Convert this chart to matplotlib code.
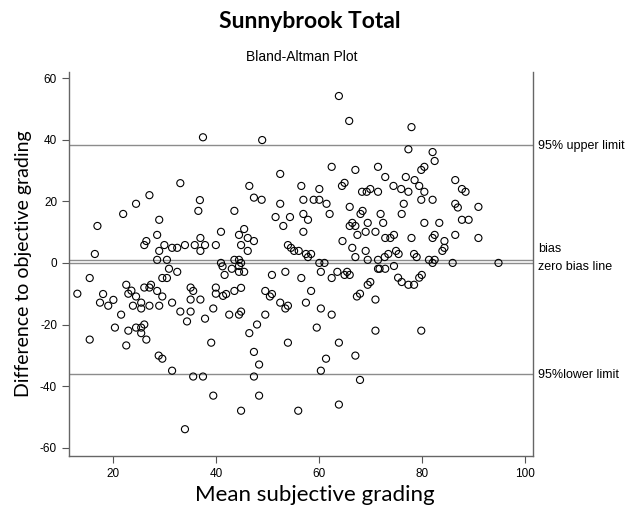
import matplotlib
matplotlib.use("Agg")
import matplotlib.pyplot as plt
import numpy as np

# mean subjective grading (x) and difference to objective grading (y)
mean_grading = [
    27.1, 36.9, 24.5, 36.6, 22.0, 29.0, 17.0, 41.0, 28.6, 37.0, 26.5, 26.1, 30.0,
    35.9, 37.9, 40.0, 34.0, 31.5, 32.5, 29.0, 37.0, 16.5, 28.6, 30.5, 41.0, 41.3,
    30.9, 32.5, 41.7, 15.5, 29.6, 30.5, 22.6, 26.1, 27.1, 27.4, 35.1, 40.0, 23.6,
    28.6, 35.6, 13.1, 23.0, 18.1, 40.0, 41.4, 24.5, 29.6, 20.1, 35.1, 37.0, 17.5,
    19.1, 23.9, 25.5, 25.5, 27.1, 29.0, 31.5, 39.5, 21.6, 33.1, 35.1, 34.4, 37.9,
    20.4, 23.0, 24.5, 25.5, 26.1, 25.5, 26.5, 15.5, 22.6, 39.1, 28.9, 29.6, 31.5,
    35.6, 37.5, 39.5, 34.0, 37.5, 33.1,
    63.9, 65.9, 49.0, 62.5, 67.1, 71.5, 52.5, 46.5, 56.6, 60.1, 65.0, 64.5, 68.4,
    69.3, 70.0, 71.5, 47.4, 48.9, 57.0, 59.0, 60.1, 52.5, 61.5, 66.0, 68.5, 68.1,
    43.6, 51.6, 54.4, 57.0, 57.9, 62.1, 53.1, 66.5, 66.0, 67.1, 69.5, 45.5, 44.5,
    46.2, 47.4, 57.0, 67.5, 69.1, 71.0, 44.9, 46.2, 64.6, 66.5, 69.1, 67.1, 54.0,
    54.6, 55.2, 56.1, 57.5, 57.9, 58.5, 43.6, 44.5, 44.9, 43.1, 44.5, 44.5, 45.5,
    60.1, 61.1, 69.5, 71.5, 71.5, 50.9, 53.5, 56.6, 60.4, 62.5, 63.6, 65.0, 65.5,
    66.0, 69.5, 70.0, 44.9, 43.6, 42.0, 49.6, 50.9, 50.5, 58.5, 52.5, 54.0, 53.5,
    57.5, 60.4, 68.0, 67.4, 71.0, 42.6, 44.5, 44.9, 49.6, 62.5, 48.0, 46.5, 59.6,
    71.0, 54.0, 63.9, 47.4, 61.4, 67.1, 48.4, 60.4, 47.4, 68.0, 48.4, 44.9, 56.0,
    63.9,
    78.0, 77.4, 82.1, 82.5, 79.9, 80.5, 72.9, 76.9, 78.6, 79.5, 80.5, 74.5, 76.0,
    77.4, 86.5, 87.8, 88.5, 79.9, 82.1, 76.5, 86.5, 87.0, 91.0, 72.0, 76.1, 72.5,
    80.5, 83.4, 87.8, 89.1, 72.9, 73.9, 74.6, 78.0, 82.1, 82.5, 84.4, 86.5, 91.0,
    84.4, 84.0, 75.0, 75.5, 73.5, 72.8, 78.5, 79.0, 81.4, 82.5, 82.1, 86.0, 94.9,
    71.8, 72.9, 74.6, 75.4, 76.1, 77.4, 78.5, 79.5, 80.0, 79.9,
]
difference = [
    22.0, 20.4, 19.2, 16.9, 15.9, 14.0, 12.0, 10.1, 9.1, 8.1, 7.1, 5.8, 5.8,
    5.8, 5.8, 5.8, 5.8, 4.9, 4.9, 3.9, 3.9, 2.9, 1.0, 1.0, 0.0, -1.1,
    -1.9, -2.9, -3.9, -4.9, -4.9, -4.9, -7.1, -8.0, -8.0, -7.1, -8.0, -8.0, -9.0,
    -9.1, -9.1, -10.0, -10.0, -10.1, -10.0, -10.7, -10.9, -10.9, -12.0, -11.9, -11.9, -12.9,
    -13.9, -13.9, -12.9, -14.8, -13.9, -13.9, -12.9, -14.8, -16.8, -15.8, -15.8, -19.0, -18.1,
    -21.0, -22.0, -21.0, -21.0, -20.0, -22.8, -24.9, -24.9, -26.8, -25.9, -30.1, -31.1, -35.0,
    -36.9, -36.9, -43.1, -54.0, 40.8, 25.9,
    54.2, 46.1, 39.9, 31.2, 30.2, 31.2, 28.9, 25.0, 25.0, 24.0, 26.0, 25.0, 23.1,
    23.1, 24.0, 23.1, 21.2, 20.5, 20.5, 20.5, 20.5, 19.2, 19.2, 18.2, 16.9, 15.9,
    16.9, 14.9, 14.9, 15.9, 14.0, 15.9, 12.0, 13.0, 12.0, 12.0, 13.0, 11.0, 9.1,
    8.1, 7.1, 10.1, 9.1, 10.1, 10.1, 5.8, 3.9, 7.1, 4.9, 3.9, 1.9, 5.8,
    4.9, 3.9, 3.9, 2.9, 1.9, 2.9, 1.0, 1.0, 0.0, -1.9, -1.0, -2.9, -2.9,
    0.0, 0.0, 1.0, 1.0, -1.9, -3.9, -2.9, -4.9, -2.9, -4.9, -2.9, -3.9, -2.9,
    -3.9, -7.1, -6.2, -8.1, -9.1, -10.1, -9.1, -10.1, -10.9, -9.1, -12.9, -13.9, -14.8,
    -12.9, -14.8, -10.0, -10.9, -11.9, -16.8, -16.8, -15.8, -16.8, -16.8, -20.0, -22.8, -21.0,
    -22.0, -25.9, -25.9, -28.9, -31.1, -30.1, -33.0, -35.0, -36.9, -38.0, -43.1, -48.0, -48.0,
    -46.0,
    44.1, 36.9, 36.0, 33.1, 30.2, 31.2, 27.9, 27.9, 26.9, 25.0, 23.1, 25.0, 24.0,
    23.1, 26.9, 24.0, 23.1, 20.5, 20.5, 19.2, 19.2, 18.0, 18.2, 15.9, 15.9, 13.0,
    13.0, 13.0, 14.0, 14.0, 8.1, 8.1, 9.1, 8.1, 8.1, 9.1, 7.1, 9.1, 8.1,
    4.9, 3.9, 3.9, 2.9, 2.9, 1.9, 2.9, 1.9, 1.0, 1.0, 0.0, 0.0, 0.0,
    -1.9, -1.9, -1.0, -4.8, -6.2, -7.1, -7.1, -4.8, -3.9, -22.0,
]

upper_limit = 38.3
bias = 1.0
lower_limit = -36.1

x_ticks = [20, 40, 60, 80, 100]
y_ticks = [-60, -40, -20, 0, 20, 40, 60]

plt.rcParams["font.family"] = ["Liberation Sans", "DejaVu Sans"]
plt.rcParams["axes.unicode_minus"] = False

fig = plt.figure(figsize=(6.38, 5.07), dpi=100)
ax = fig.add_axes([0.108, 0.1006, 0.727, 0.7574])

line_col = "#8c8c8c"
for level in [upper_limit, bias, 0, lower_limit]:
    ax.axhline(level, color=line_col, lw=1.0)

ax.scatter(mean_grading, difference, s=26, facecolors="none",
           edgecolors="black", linewidths=0.8, zorder=3)

ax.set_xlim(11.46, 101.55)
ax.set_ylim(-62.7, 62.0)
ax.set_xticks(x_ticks)
ax.set_yticks(y_ticks)
ax.tick_params(labelsize=8.5, length=5, width=0.8, color="#555555")

for side in ["left", "right", "bottom"]:
    ax.spines[side].set_color("#666666")
    ax.spines[side].set_linewidth(1.0)
ax.spines["top"].set_visible(False)

# labels on the right of the limit lines
lab = dict(xycoords=("axes fraction", "data"), textcoords="offset points",
           fontsize=9, va="center", ha="left", annotation_clip=False)
ax.annotate("95% upper limit", (1.0, upper_limit), xytext=(4, -1), **lab)
ax.annotate("bias", (1.0, bias), xytext=(4, 8), **lab)
ax.annotate("zero bias line", (1.0, 0), xytext=(4, -3), **lab)
ax.annotate("95%lower limit", (1.0, lower_limit), xytext=(4, -1), **lab)

ax.set_ylabel("Difference to objective grading", family="Lato", fontsize=14, labelpad=6)
fig.text(315 / 638, 1 - 495 / 507, "Mean subjective grading", family="Lato",
         fontsize=16, ha="center", va="center")

fig.text(310 / 638, 0.958, "Sunnybrook Total", family="Lato", fontweight="bold",
         fontsize=16.5, ha="center", va="center")
fig.text(302 / 638, 0.888, "Bland-Altman Plot", fontsize=10, ha="center", va="center")

fig.savefig("out.png", dpi=100)
